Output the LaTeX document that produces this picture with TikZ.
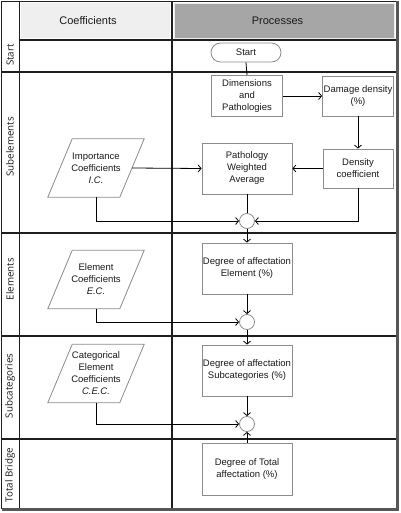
\documentclass[tikz,border=0pt]{standalone}
\usepackage{fontspec}
\setmainfont{Liberation Sans}
\newfontfamily\lanefont{Open Sans}
\usetikzlibrary{arrows.meta,calc}
\definecolor{boxgray}{HTML}{8C8C8C}
\definecolor{hdrlight}{HTML}{EFEFEF}
\definecolor{hdrdark}{HTML}{A6A6A6}
\definecolor{frame}{HTML}{1E1E1E}
\definecolor{txt}{HTML}{1A1A1A}
\tikzset{
  proc/.style={draw=boxgray, line width=0.8pt, fill=white, rectangle, align=center,
    inner sep=1pt, text=txt, font=\fontsize{9.5}{12}\selectfont},
  coef/.style={rectangle, minimum width=96pt, minimum height=58pt, align=center, inner sep=0pt,
    text=txt, font=\fontsize{9.5}{12}\selectfont},
  para/.style={draw=boxgray, line width=0.8pt, fill=white},
  joint/.style={draw=boxgray, line width=0.8pt, fill=white, circle, minimum size=15pt, inner sep=0pt},
  conn/.style={draw=black, line width=0.8pt},
  arr/.style={conn, -{Straight Barb[length=3pt,width=7pt]}},
  lane/.style={rotate=90, font=\lanefont\fontsize{9.8}{12}\selectfont, text=txt, inner sep=0pt},
  hdr/.style={font=\fontsize{11}{13}\selectfont, text=txt, inner sep=0pt},
  grid/.style={draw=frame, line width=1.2pt}
}
\newcommand{\paradraw}[1]{%
  \path[para] (#1.south west) -- ++(72,0) -- (#1.north east) -- ++(-72,0) -- cycle;}
\begin{document}
\begin{tikzpicture}[x=1pt,y=-1pt]
\useasboundingbox (0,0) rectangle (400,513);
\fill[white] (0,0) rectangle (400,513);
% header fills
\fill[hdrlight] (21,3) rectangle (170,38.5);
\fill[hdrdark] (174,3) rectangle (395,38.5);
\draw[white!85!gray, line width=0.8pt] (174.5,3.5) rectangle (394.5,38);
\node[hdr] (hcoef) at (88,21) {Coefficients};
\node[hdr] (hproc) at (277.5,21) {Processes};
% frame
\draw[grid] (1.5,1.5) -- (397,1.5);
\draw[grid] (1.5,1.5) -- (1.5,508.5);
\draw[grid] (19.5,1.5) -- (19.5,508.5);
\draw[grid] (172,1.5) -- (172,508.5);
\draw[grid] (19.5,40) -- (397,40);
\draw[grid] (1.5,72) -- (397,72);
\draw[grid] (1.5,233) -- (397,233);
\draw[grid] (1.5,336) -- (397,336);
\draw[grid] (1.5,439) -- (397,439);
\draw[draw=frame!75!white, line width=2.6pt] (397.5,1.5) -- (397.5,509.5);
\draw[draw=frame!75!white, line width=2.6pt] (1.5,509.2) -- (398.8,509.2);
% lane labels
\node[lane] (lstart) at (10,55) {Start};
\node[lane] (lsub) at (10,147) {Subelements};
\node[lane] (lel) at (10,279) {Elements};
\node[lane] (lcat) at (10,386) {Subcategories};
\node[lane] (ltot) at (10,475) {Total Bridge};
% coefficient nodes (parallelograms)
\node[coef] (ic) at (96,168) {};
\node[coef] (ec) at (96,279.5) {};
\node[coef] (cec) at (96,373.5) {};
\paradraw{ic}\paradraw{ec}\paradraw{cec}
\node[coef] at (ic.center) {Importance\\Coefficients\\\textit{I.C.}};
\node[coef] at (ec.center) {Element\\Coefficients\\\textit{E.C.}};
\node[coef] at (cec.center) {Categorical\\Element\\Coefficients\\\textit{C.E.C.}};
% process nodes
\node[proc, rounded corners=9.5pt, minimum width=70pt, minimum height=19pt] (start) at (246,52.5) {Start};
\node[proc, minimum width=71pt, minimum height=41pt] (dim) at (247,96) {Dimensions\\and\\Pathologies};
\node[proc, minimum width=71pt, minimum height=40pt] (dd) at (358,96) {Damage density\\(\%)};
\node[proc, minimum width=70pt, minimum height=39pt] (dc) at (358,168.5) {Density\\coefficient};
\node[proc, minimum width=90pt, minimum height=51pt] (pwa) at (247,168.5) {Pathology\\Weighted\\Average};
\node[joint] (c1) at (247,221) {};
\node[proc, minimum width=90pt, minimum height=51pt] (el) at (247,268.5) {Degree of affectation\\Element (\%)};
\node[joint] (c2) at (247,322) {};
\node[proc, minimum width=90pt, minimum height=51pt] (sc) at (247,370.5) {Degree of affectation\\Subcategories (\%)};
\node[joint] (c3) at (247,424) {};
\node[proc, minimum width=90pt, minimum height=52pt] (tot) at (247,469) {Degree of Total\\affectation (\%)};
% connectors
\draw[conn] (start.south) -- (dim.north);
\draw[arr] (dim.east) -- (dd.west);
\draw[arr] (dd.south) -- (dc.north);
\draw[arr] (dc.west) -- (pwa.east);
\draw[arr] ($(ic.east)-(12,0)$) -- (pwa.west);
\draw[conn] (pwa.south) -- (c1.north);
\draw[arr] (ic.south) |- (c1.west);
\draw[arr] (dc.south) |- (c1.east);
\draw[arr] (c1.south) -- (el.north);
\draw[arr] (el.south) -- (c2.north);
\draw[arr] (ec.south) |- (c2.west);
\draw[arr] (c2.south) -- (sc.north);
\draw[arr] (sc.south) -- (c3.north);
\draw[arr] (cec.south) |- (c3.west);
\draw[arr] (tot.north) -- (c3.south);
\end{tikzpicture}
\end{document}
